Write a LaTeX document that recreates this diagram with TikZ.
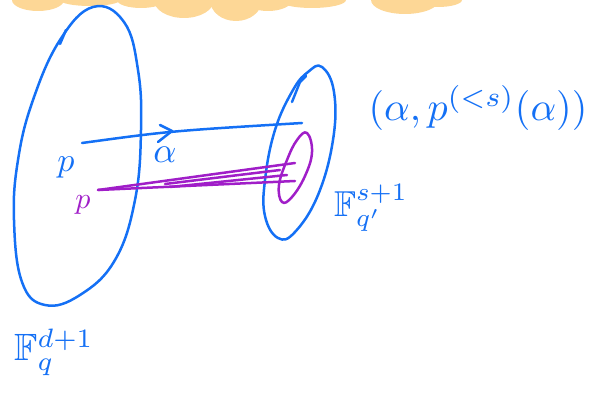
\documentclass[tikz,border=0pt]{standalone}
\usepackage{amssymb}
\definecolor{penblue}{RGB}{20,112,245}
\definecolor{penpurple}{RGB}{160,30,200}
\definecolor{cloudorange}{RGB}{253,215,150}
\begin{document}
\begin{tikzpicture}[x=1pt,y=-1pt,
  pen/.style={line width=2.5pt, line cap=round, line join=round},
  bluepen/.style={pen, draw=penblue},
  purplepen/.style={pen, draw=penpurple},
  bluetext/.style={text=penblue, inner sep=0pt},
  purpletext/.style={text=penpurple, inner sep=0pt}]
\useasboundingbox (0,0) rectangle (589,395);
\clip (0,0) rectangle (589,395);
% cloud band at the top
\fill[cloudorange] (38,0) ellipse [x radius=26, y radius=11];
\fill[cloudorange] (90,0) ellipse [x radius=30, y radius=6];
\fill[cloudorange] (141,0) ellipse [x radius=24, y radius=8];
\fill[cloudorange] (184,0) ellipse [x radius=30, y radius=18];
\fill[cloudorange] (236,0) ellipse [x radius=26, y radius=21];
\fill[cloudorange] (268,0) ellipse [x radius=24, y radius=11];
\fill[cloudorange] (312,0) ellipse [x radius=34, y radius=8];
\fill[cloudorange] (405,0) ellipse [x radius=34, y radius=14];
\fill[cloudorange] (438,0) ellipse [x radius=24, y radius=7];
% big ellipse
\draw[bluepen] plot[smooth cycle, tension=0.7] coordinates {(93,7) (124,22) (138,70) (141,130) (135,200) (115,260) (80,295) (45,305) (22,282) (14,220) (18,160) (33,100) (60,40)};
\draw[bluepen] (60,44) -- (66,30);
% small blue ellipse
\draw[bluepen] plot[smooth cycle, tension=0.7] coordinates {(322,67) (334,92) (333,140) (318,195) (295,232) (278,238) (265,216) (265,180) (275,130) (293,90) (308,72)};
\draw[bluepen] (292,102) -- (300,82) -- (306,76);
% purple ellipse
\draw[purplepen] plot[smooth cycle, tension=0.7] coordinates {(307,133) (312,152) (305,176) (292,197) (282,202) (279,185) (287,160) (297,140)};
% named points
\coordinate (pb) at (82,143);
\coordinate (ab) at (302,123);
\coordinate (pp) at (98,190);
\coordinate (ip1) at (295,163);
\coordinate (ip2) at (295,181);
\coordinate (is1) at (165,184);
\coordinate (ie1) at (280,170);
\coordinate (is2) at (170,187);
\coordinate (ie2) at (287,175);
% blue line with chevron
\draw[bluepen] (pb) .. controls (170,131) .. (ab);
\draw[bluepen] (160,125) -- (172,131) -- (158,142);
% purple lines
\draw[purplepen] (pp) -- (ip1);
\draw[purplepen] (pp) -- (ip2);
\draw[purplepen] (is1) -- (ie1);
\draw[purplepen] (is2) -- (ie2);
% labels
\node[bluetext, scale=3.4] (lp) at (66,167) {$p$};
\node[bluetext, scale=3.6] (la) at (165,155) {$\alpha$};
\node[purpletext, scale=3.0] (lpp) at (83,205) {$p$};
\node[bluetext, scale=4.0] (tuple) at (478,108) {$(\alpha, p^{(<s)}(\alpha))$};
\node[bluetext, scale=3.6] (Fr) at (371,208) {$\mathbb{F}_{q'}^{s+1}$};
\node[bluetext, scale=3.8] (Fl) at (54,352) {$\mathbb{F}_{q}^{d+1}$};
\end{tikzpicture}
\end{document}
